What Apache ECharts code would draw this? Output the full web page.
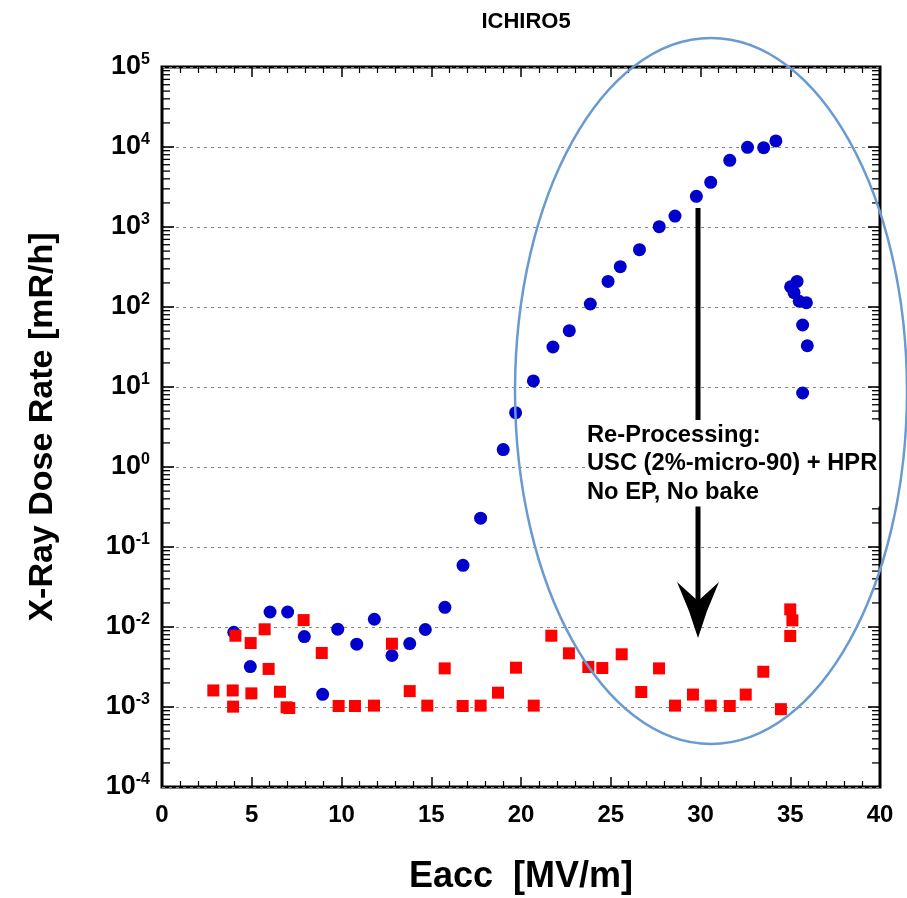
<!DOCTYPE html>
<html>
<head>
<meta charset="utf-8">
<script src="https://cdn.jsdelivr.net/npm/echarts@6/dist/echarts.min.js"></script>
<style>html,body{margin:0;padding:0;background:#fff}#c{width:907px;height:898px}</style>
</head>
<body>
<div id="c"></div>
<script>
// ---- data ----
const chartTitle = 'ICHIRO5';
const xName = 'Eacc  [MV/m]';
const yName = 'X-Ray Dose Rate [mR/h]';
const xTicks = [0, 5, 10, 15, 20, 25, 30, 35, 40];
const yPowers = [-4, -3, -2, -1, 0, 1, 2, 3, 4, 5];

const blueX = [4.0, 4.92, 6.02, 7.0, 7.93, 8.95, 9.79, 10.85, 11.83, 12.81, 13.8, 14.67, 15.76, 16.77, 17.75, 19.01, 19.7, 20.69, 21.78, 22.69, 23.86, 24.85, 25.53, 26.6, 27.7, 28.58, 29.77, 30.57, 31.63, 32.62, 33.52, 34.2, 35.02, 35.38, 35.21, 35.5, 35.9, 35.69, 35.95, 35.69];
const blueY = [0.0086, 0.0032, 0.0154, 0.0154, 0.0076, 0.00144, 0.0094, 0.0061, 0.0125, 0.0044, 0.0062, 0.0093, 0.0176, 0.059, 0.229, 1.65, 4.77, 11.9, 31.6, 50.6, 109, 209, 319, 520, 1010, 1370, 2420, 3620, 6810, 9910, 9800, 11900, 179, 209, 151, 118, 113, 59.6, 32.8, 8.41];

const redX = [2.86, 3.94, 3.96, 4.09, 4.94, 4.98, 5.72, 5.94, 6.57, 6.94, 7.09, 7.89, 8.9, 9.84, 10.75, 11.81, 12.81, 13.8, 14.78, 15.75, 16.75, 17.75, 18.72, 19.72, 20.71, 21.69, 22.67, 23.75, 24.53, 25.61, 26.7, 27.69, 28.58, 29.58, 30.57, 31.63, 32.52, 33.5, 34.48, 35.0, 35.12, 35.0];
const redY = [0.00161, 0.00161, 0.00101, 0.00778, 0.0063, 0.00148, 0.00936, 0.00299, 0.00155, 0.00099, 0.00097, 0.0122, 0.00473, 0.00103, 0.00103, 0.00104, 0.00618, 0.00158, 0.00104, 0.00304, 0.00103, 0.00104, 0.00151, 0.0031, 0.00104, 0.00778, 0.00469, 0.00316, 0.00307, 0.00456, 0.00154, 0.00304, 0.00104, 0.00143, 0.00104, 0.00103, 0.00143, 0.00276, 0.00094, 0.0166, 0.0121, 0.00772];

const annotation = ['Re-Processing:', 'USC (2%-micro-90) + HPR', 'No EP, No bake'];

// ---- build ----
const FONT = "'Liberation Sans', Arial, Helvetica, sans-serif";
const yMin = Math.pow(10, yPowers[0]);
const yMax = Math.pow(10, yPowers[yPowers.length - 1]);
const xMin = xTicks[0], xMax = xTicks[xTicks.length - 1];
// y-axis tick marks (log decades + 2..9 minor) drawn on both frame sides
const yTickMarks = [];
for (let p = yPowers[0]; p < yPowers[yPowers.length - 1]; p++) {
  if (p > yPowers[0]) yTickMarks.push([xMin, Math.pow(10, p), 12]);
  for (let k = 2; k <= 9; k++) yTickMarks.push([xMin, k * Math.pow(10, p), 8]);
}
const zip = (xs, ys) => xs.map((x, i) => [x, ys[i]]);

const chart = echarts.init(document.getElementById('c'), null, {renderer: 'canvas'});

const logAxisBase = {
  type: 'log', logBase: 10, min: yMin, max: yMax,
  axisLine: {show: false, onZero: false},
  axisTick: {show: false},
  minorTick: {show: false},
  splitLine: {show: false}
};
const xAxisBase = {
  type: 'value', min: xMin, max: xMax, interval: xTicks[1] - xTicks[0],
  axisLine: {show: false, onZero: false},
  axisTick: {show: true, inside: true, length: 10, lineStyle: {color: '#000', width: 1.5}},
  minorTick: {show: true, splitNumber: 5, length: 6, lineStyle: {color: '#000', width: 1.2}},
  splitLine: {show: false}
};

chart.setOption({
  animation: false,
  backgroundColor: '#fff',
  title: {
    text: chartTitle, left: 521, top: 6, textAlign: 'center',
    textStyle: {fontFamily: FONT, fontWeight: 'bold', fontSize: 22, color: '#000'}
  },
  grid: {left: 162, right: 27, top: 67, bottom: 111, outerBoundsMode: 'none', containLabel: false,
    show: true, borderColor: '#000', borderWidth: 3, backgroundColor: 'transparent'},
  xAxis: [
    Object.assign({}, xAxisBase, {
      position: 'bottom',
      name: xName, nameLocation: 'middle', nameGap: 72,
      nameTextStyle: {fontFamily: FONT, fontWeight: 'bold', fontSize: 36, color: '#000'},
      axisLabel: {show: true, margin: 16, fontFamily: FONT, fontWeight: 'bold', fontSize: 24, color: '#000'}
    }),
    Object.assign({}, xAxisBase, {position: 'top', axisLabel: {show: false}})
  ],
  yAxis: [
    Object.assign({}, logAxisBase, {
      position: 'left',
      name: yName, nameLocation: 'middle', nameGap: 102,
      nameTextStyle: {fontFamily: FONT, fontWeight: 'bold', fontSize: 34, color: '#000'},
      splitLine: {show: true, lineStyle: {color: '#888', type: [3, 4], width: 1}},
      axisLabel: {
        show: true, margin: 12, interval: 0,
        formatter: function (v) {
          const e = Math.round(Math.log10(v));
          return '{b|10}{s|' + e + '}';
        },
        rich: {
          b: {fontFamily: FONT, fontWeight: 'bold', fontSize: 27, color: '#000', lineHeight: 30},
          s: {fontFamily: FONT, fontWeight: 'bold', fontSize: 16, color: '#000', lineHeight: 17, verticalAlign: 'top'}
        }
      }
    })
  ],
  series: [
    {
      type: 'custom', name: 'yTicks', coordinateSystem: 'cartesian2d', xAxisIndex: 0, yAxisIndex: 0,
      silent: true, clip: false, z: 4, encode: {x: 0, y: 1},
      data: yTickMarks,
      renderItem: function (params, api) {
        const v = api.value(1);
        const len = api.value(2);
        const pL = api.coord([xMin, v]);
        const pR = api.coord([xMax, v]);
        const w = len > 10 ? 1.6 : 1.3;
        return {
          type: 'group',
          children: [
            {type: 'line', shape: {x1: pL[0], y1: pL[1], x2: pL[0] + len, y2: pL[1]}, style: {stroke: '#000', lineWidth: w}},
            {type: 'line', shape: {x1: pR[0] - len, y1: pR[1], x2: pR[0], y2: pR[1]}, style: {stroke: '#000', lineWidth: w}}
          ]
        };
      }
    },
    {
      type: 'scatter', name: 'before', xAxisIndex: 0, yAxisIndex: 0,
      data: zip(blueX, blueY), symbol: 'circle', symbolSize: 13,
      itemStyle: {color: '#0000CC', opacity: 1}, z: 3
    },
    {
      type: 'scatter', name: 'after', xAxisIndex: 0, yAxisIndex: 0,
      data: zip(redX, redY), symbol: 'rect', symbolSize: 12,
      itemStyle: {color: '#FF0000', opacity: 1}, z: 3
    }
  ],
  graphic: [
    {type: 'ellipse', shape: {cx: 711, cy: 391, rx: 196, ry: 353}, style: {fill: 'none', stroke: '#6a9bd0', lineWidth: 2.5}, z: 10},
    {type: 'line', shape: {x1: 698, y1: 208, x2: 698, y2: 420}, style: {stroke: '#000', lineWidth: 5}, z: 11},
    {type: 'line', shape: {x1: 698, y1: 506, x2: 698, y2: 604}, style: {stroke: '#000', lineWidth: 5}, z: 11},
    {type: 'polygon', shape: {points: [[698, 638], [689, 611], [677, 582], [698, 601], [719, 582], [707, 611]]}, style: {fill: '#000'}, z: 11},
    {type: 'text', x: 586, y: 421, z: 12,
      style: {text: annotation.join('\n'), font: "bold 23.7px 'Liberation Sans', Arial, sans-serif", lineHeight: 28.5, fill: '#000',
        backgroundColor: '#fff', padding: [0, 2, 0, 1]}}
  ]
});
</script>
</body>
</html>
